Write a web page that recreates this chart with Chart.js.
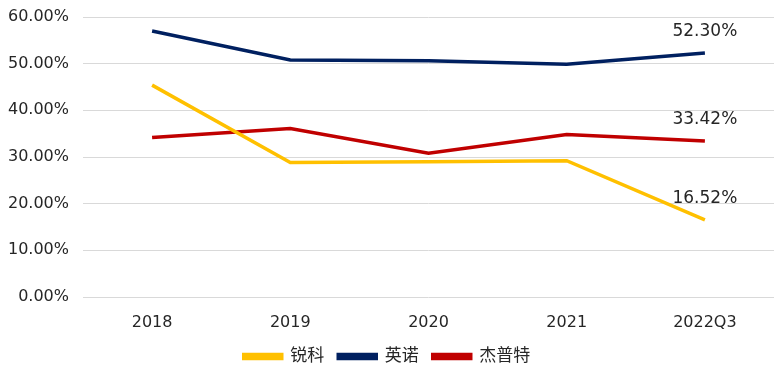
<!DOCTYPE html>
<html>
<head>
<meta charset="utf-8">
<script src="https://cdn.jsdelivr.net/npm/chart.js@4"></script>
<style>
  html, body { margin: 0; padding: 0; background: #fff; }
  #wrap { width: 778px; height: 375px; }
</style>
</head>
<body>
<div id="wrap"><canvas id="chart" width="778" height="375"></canvas></div>
<script>
// Chart data
const years = ['2018', '2019', '2020', '2021', '2022Q3'];
const seriesNames = ['锐科', '英诺', '杰普特'];
const ruike = [45.4, 28.8, 29.0, 29.2, 16.52];
const yingnuo = [57.0, 50.8, 50.6, 49.9, 52.30];
const jiepute = [34.2, 36.1, 30.8, 34.8, 33.42];
const colors = ['#FFC000', '#002060', '#C00000'];

const fontFamily = '"DejaVu Sans", Verdana, "Noto Sans CJK SC", sans-serif';

// Label only the last point of each line
const lastLabelPlugin = {
    id: 'lastLabel',
    afterDatasetsDraw(chart) {
        const ctx = chart.ctx;
        ctx.save();
        ctx.font = '17px ' + fontFamily;
        ctx.fillStyle = '#262626';
        ctx.textAlign = 'center';
        ctx.textBaseline = 'middle';
        chart.data.datasets.forEach((ds, i) => {
            const meta = chart.getDatasetMeta(i);
            const last = meta.data[meta.data.length - 1];
            const v = ds.data[ds.data.length - 1];
            ctx.fillText(v.toFixed(2) + '%', last.x, last.y - 21);
        });
        ctx.restore();
    }
};

const ctx = document.getElementById('chart').getContext('2d');
new Chart(ctx, {
    type: 'line',
    data: {
        labels: years,
        datasets: [ruike, yingnuo, jiepute].map((d, i) => ({
            label: seriesNames[i],
            data: d,
            borderColor: colors[i],
            backgroundColor: colors[i],
            borderWidth: 3.5,
            pointRadius: 0,
            tension: 0
        }))
    },
    options: {
        responsive: false,
        animation: false,
        layout: { padding: { left: 0, right: 4, top: 17, bottom: 0 } },
        scales: {
            x: {
                offset: true,
                grid: { display: false },
                border: { display: false },
                afterFit(scale) { scale.height = 37; },
                ticks: {
                    color: '#262626',
                    font: { family: fontFamily, size: 16 },
                    padding: 8
                }
            },
            y: {
                min: 0,
                max: 60,
                grid: { color: '#D9D9D9', lineWidth: 1, drawTicks: false },
                border: { display: false },
                afterFit(scale) { scale.width = 83; scale.paddingTop = 0; },
                ticks: {
                    stepSize: 10,
                    padding: 14,
                    color: '#262626',
                    font: { family: fontFamily, size: 16 },
                    callback: v => v.toFixed(2) + '%'
                }
            }
        },
        plugins: {
            legend: {
                position: 'bottom',
                labels: {
                    boxWidth: 38,
                    boxHeight: 4,
                    padding: 14,
                    color: '#262626',
                    font: { family: fontFamily, size: 17 }
                }
            },
            tooltip: { enabled: false }
        }
    },
    plugins: [lastLabelPlugin]
});
</script>
</body>
</html>
